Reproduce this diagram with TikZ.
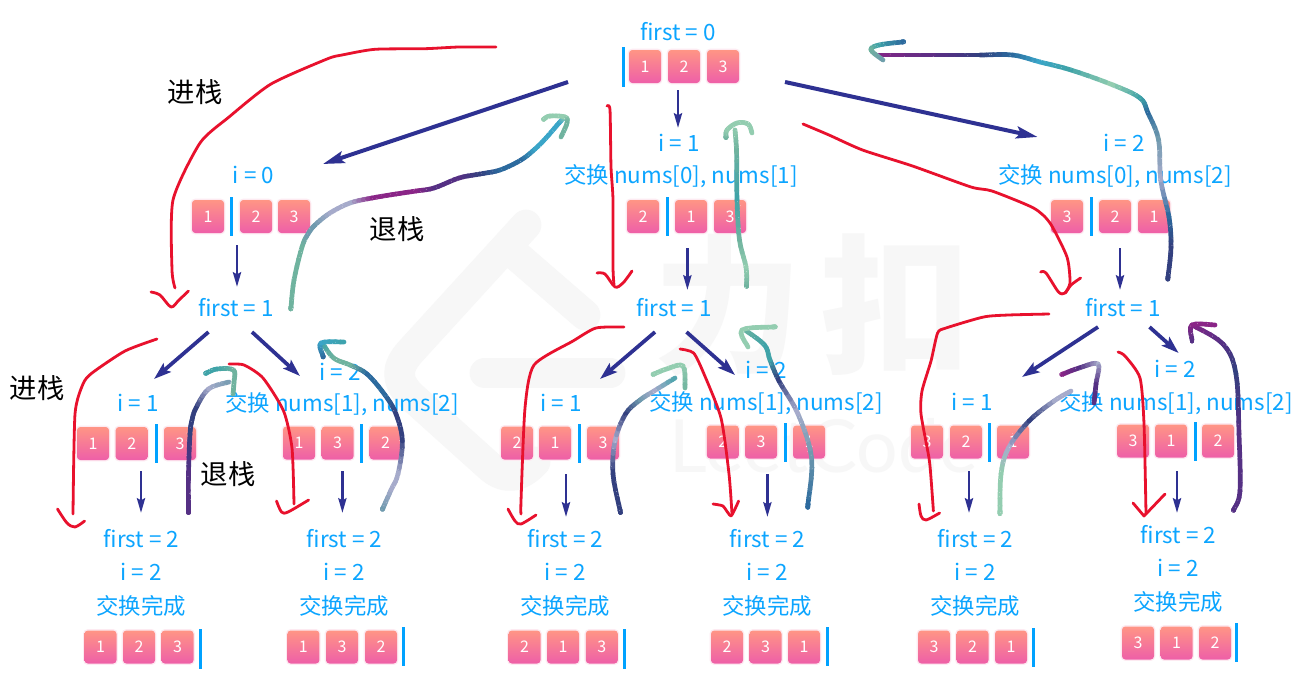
\documentclass[tikz,border=0pt]{standalone}
\usepackage{fontspec}
\setmainfont{Noto Sans CJK SC}
\newfontfamily\wmlatin{Lato}
\usetikzlibrary{arrows.meta}
\definecolor{labelblue}{HTML}{0CA5FF}
\definecolor{barblue}{HTML}{00A2FF}
\definecolor{arrowblue}{HTML}{2E3192}
\definecolor{penred}{HTML}{E8112D}
\definecolor{tiletop}{HTML}{FF9585}
\definecolor{tilebot}{HTML}{EE5FA8}
\definecolor{tileglow}{HTML}{FDEAF1}
\definecolor{mark}{HTML}{F7F7F7}
\definecolor{gmint}{HTML}{93CDB0}
\definecolor{ggreen}{HTML}{6FB39F}
\definecolor{gteal}{HTML}{3FA3A8}
\definecolor{gsky}{HTML}{3AA5C8}
\definecolor{gblue}{HTML}{2C6A9E}
\definecolor{gnavy}{HTML}{33407F}
\definecolor{gpurple}{HTML}{553084}
\definecolor{gmagenta}{HTML}{8A2587}
\definecolor{glilac}{HTML}{A6ABCB}
\definecolor{gsteel}{HTML}{6F9AAE}
\tikzset{
  label text/.style={text=labelblue,font=\fontsize{16.8pt}{18pt}\selectfont,inner sep=0pt,text height=12pt,text depth=0pt,anchor=center},
  note text/.style={text=black,font=\fontsize{20.5pt}{22pt}\selectfont,inner sep=0pt},
  tilebox/.style={minimum width=24pt,minimum height=24.75pt,inner sep=0pt,rounded corners=2.5pt,top color=tiletop,bottom color=tilebot,text=white,font=\fontsize{12pt}{12pt}\selectfont,preaction={draw=tileglow,line width=2pt}},
  divider/.style={draw=barblue,line width=2.25pt},
  longarrow/.style={draw=arrowblue,fill=arrowblue,line width=3pt,-{Stealth[length=16pt,width=9pt,inset=3pt]}},
  midarrow/.style={draw=arrowblue,fill=arrowblue,line width=2.8pt,-{Stealth[length=13pt,width=8.5pt,inset=2.5pt]}},
  downarrow/.style={draw=arrowblue,fill=arrowblue,line width=2.1pt,-{Stealth[length=11pt,width=6pt,inset=1.5pt]}},
  redpen/.style={draw=penred,line width=2.1pt,line cap=round,line join=round},
  galpen/.style={line width=3.5pt,line cap=round,line join=round},
}
\pgfmathsetseed{4242}
% one Catmull-Rom span from (b) to (c), with (a) and (next) as neighbours
\newcommand{\galpoint}[5]{% result in \crv ; #1..#4 control values, #5 t
  \pgfmathsetmacro\crv{.5*(2*#2+(#3-#1)*#5+(2*#1-5*#2+4*#3-#4)*#5*#5+(3*#2-#1-3*#3+#4)*#5*#5*#5)}}
\newcommand{\galspan}[2]{%
  \foreach \t in {0,20,40,60,80}{%
    \pgfmathsetmacro\ta{\t/100}\pgfmathsetmacro\tb{(\t+20)/100}%
    \galpoint{\gxa}{\gxb}{\gxc}{#1}{\ta}\let\xs\crv
    \galpoint{\gya}{\gyb}{\gyc}{#2}{\ta}\let\ys\crv
    \galpoint{\gxa}{\gxb}{\gxc}{#1}{\tb}\let\xe\crv
    \galpoint{\gya}{\gyb}{\gyc}{#2}{\tb}\let\ye\crv
    \draw[galpen,color=\gcc!\t!\gcb] (\xs,\ys) -- (\xe,\ye);
    \pgfmathsetmacro\sx{\xs+3.4*rand}\pgfmathsetmacro\sy{\ys+3.4*rand}%
    \fill[white,opacity=.55] (\sx,\sy) circle (.32pt);
  }%
}
\newcommand{\galstroke}[1]{%
  \gdef\gfirst{1}%
  \foreach \x/\y/\c in {#1}{%
    \ifnum\gfirst=1
      \xdef\gxa{\x}\xdef\gxb{\x}\xdef\gxc{\x}\xdef\gya{\y}\xdef\gyb{\y}\xdef\gyc{\y}\xdef\gcb{\c}\xdef\gcc{\c}\gdef\gfirst{0}%
    \else
      \galspan{\x}{\y}%
      \xdef\gxa{\gxb}\xdef\gya{\gyb}\xdef\gxb{\gxc}\xdef\gyb{\gyc}\xdef\gcb{\gcc}%
      \xdef\gxc{\x}\xdef\gyc{\y}\xdef\gcc{\c}%
    \fi
  }%
  \galspan{\gxc}{\gyc}%
}
\begin{document}
\begin{tikzpicture}[x=.75pt,y=-.75pt]
\useasboundingbox (0,0) rectangle (1308,682);
\fill[white] (0,0) rectangle (1308,682);
% watermark
\begin{scope}[draw=mark,line width=23pt,line cap=round,line join=round]
  \draw (526,225) -- (410,352) .. controls (396,368) and (396,380) .. (410,395) -- (490,467) .. controls (505,480) and (520,478) .. (535,462);
  \draw (510,250) -- (585,315);
  \draw (485,373) -- (610,373);
\end{scope}
\node[text=mark,font=\bfseries\fontsize{112pt}{120pt}\selectfont,inner sep=0pt] (wmli) at (728,305) {力};
\node[text=mark,font=\bfseries\fontsize{112pt}{120pt}\selectfont,inner sep=0pt] (wmkou) at (895,305) {扣};
\node[text=mark,font=\wmlatin\fontsize{55pt}{60pt}\selectfont,inner sep=0pt] (wmen) at (824,446) {LeetCode};
% labels
\foreach \x/\y/\t [count=\i] in {
  678/32/{first = 0},
  253.5/175/{i = 0},236/308/{first = 1},
  679/143/{i = 1},681/175/{交换 nums[0], nums[1]},674/308/{first = 1},
  1124/143/{i = 2},1115/175/{交换 nums[0], nums[2]},1123/308/{first = 1},
  138/403/{i = 1},340/372/{i = 2},342/403/{交换 nums[1], nums[2]},
  561/403/{i = 1},766/370/{i = 2},766/402/{交换 nums[1], nums[2]},
  972/402/{i = 1},1175/369/{i = 2},1176/402/{交换 nums[1], nums[2]},
  141.5/539/{first = 2},141/572/{i = 2},141/606/{交换完成},
  344.5/539/{first = 2},344/572/{i = 2},344/606/{交换完成},
  565.5/539/{first = 2},565/572/{i = 2},565/606/{交换完成},
  767.5/539/{first = 2},767/572/{i = 2},767/606/{交换完成},
  975.5/539/{first = 2},975/572/{i = 2},975/606/{交换完成},
  1178.5/535/{first = 2},1178/568/{i = 2},1178/602/{交换完成}}
  {\node[label text] (label\i) at (\x,\y) {\t};}
% tiles
\foreach \x/\y/\d [count=\i] in {
  645/66.5/1,684/66.5/2,723/66.5/3,
  208/216.5/1,256/216.5/2,294/216.5/3,
  643/216.5/2,691/216.5/1,730/216.5/3,
  1067/216.5/3,1115/216.5/2,1154/216.5/1,
  93/443.5/1,131.7/443.5/2,180/443.5/3,
  299/443/1,337.6/443/3,385.6/443/2,
  517/443/2,555/443/1,603/443/3,
  722.8/442/2,761/442/3,809/442/1,
  927/442/3,966/442/2,1013/442/1,
  1133/441/3,1171/441/1,1218/441/2,
  100.5/647/1,139/647/2,177.5/647/3,
  303.4/647/1,342/647/3,381/647/2,
  524.5/647/2,563/647/1,601.8/647/3,
  727/647/2,765.5/647/3,804/647/1,
  934/647/3,972.5/647/2,1011/647/1,
  1138/643/3,1176.6/643/1,1215/643/2}
  {\node[tilebox] (tile\i) at (\x,\y) {\d};}
% dividers
\foreach \x/\ya/\yb in {
  623/47/87,231.5/197/236,667/197/236,1091/197/236,
  156/424/463,361/424/463,579/424/463,785.8/423/462,989.7/423/462,1195/422/461,
  200.6/629/669,403.7/627/666,624/629/669,827/627/666,1033.5/628/667,1236.6/623/662}
  {\draw[divider] (\x,\ya) -- (\x,\yb);}
% blue arrows: free ends are named coordinates
\foreach \n/\xa/\ya/\xb/\yb in {
  rootleft/568/82/323/164,
  rootright/785/82/1037.6/137}
  {\coordinate (\n-from) at (\xa,\ya); \coordinate (\n-to) at (\xb,\yb);
   \draw[longarrow] (\n-from) -- (\n-to);}
\foreach \n/\xa/\ya/\xb/\yb in {
  aleft/208.5/332/154/379,
  aright/252/332/300/376,
  bleft/655/332/600/379,
  bright/686.5/332/735/375,
  cleft/1098/327/1022/377,
  cright/1149.5/327/1178.6/353}
  {\coordinate (\n-from) at (\xa,\ya); \coordinate (\n-to) at (\xb,\yb);
   \draw[midarrow] (\n-from) -- (\n-to);}
\foreach \n/\xa/\ya/\xb/\yb in {
  d1/678/90/678/128,d2/237/245/237/287,d3/687.4/248/687.4/290,d4/1120/248/1120/290,
  d5/141/471/141/513,d6/342.4/471/342.4/513,d7/566/474/566/517,d8/767.4/474/767.4/517,d9/969/471/969/513,d10/1177/471/1177/513}
  {\coordinate (\n-from) at (\xa,\ya); \coordinate (\n-to) at (\xb,\yb);
   \draw[downarrow] (\n-from) -- (\n-to);}
% galaxy strokes
\galstroke{291/307/ggreen,294/280/ggreen,302/247/ggreen,308/234/gsteel,315/225/gsteel,330/213/glilac,350/203/glilac,372/198/gmagenta,396/194/gmagenta,416/191/gmagenta,434/188/gpurple,459/178/gpurple,480/174/gnavy,500/170/gblue,521/160/gblue,535/149/gsky,546/138/gsky,559/123/gsky,565/117/gmint}
\galstroke{544/119/gmint,550/116/gmint,565/117/gmint,567/123/ggreen,561/137/ggreen}
\galstroke{746.6/285/ggreen,746/267/gmint,739.5/240/ggreen,737/200/gteal,736.6/153/ggreen,735/130/gmint}
\galstroke{726/137/ggreen,727/130/gmint,737/123/gmint,748/124/gmint,752/133/gmint}
\galstroke{1168/277/gnavy,1171/247/gnavy,1169/217/gblue,1160.7/180/glilac,1158.6/140/gsteel,1148/113/gblue,1140/98/gteal,1113/85/gmint,1071/70/gteal,1040/62/gsky,1012.6/55/gblue,980/55/gnavy,946/55/gpurple,879/55/gmagenta}
\galstroke{902/42/gblue,879/45/gteal,871/50/ggreen,883/60/gsteel}
\galstroke{188.5/510/gpurple,188.5/474/gpurple,190/434/gnavy,192/420/gnavy,196/408/gnavy,208.5/389/glilac,229/382/gsteel}
\galstroke{206.4/373/gteal,217/369/gteal,233.5/370/ggreen,234/382/ggreen,233/394/ggreen}
\galstroke{383/508/gsteel,391/490/glilac,398/474/glilac,402.4/441/gnavy,396/414/gnavy,385/395/gblue,367/374/gblue,350/365/ggreen,333.6/358/ggreen,323/344/gteal}
\galstroke{323/356/gblue,321/343/gsky,344/342/gteal}
\galstroke{620/510/gnavy,613/474/gnavy,615/441/glilac,625.5/414/gnavy,640/400/gsteel,654/391/glilac,675/378/gteal}
\galstroke{654/374/gmint,666.5/369/gmint,683/366/gmint,685/388/ggreen}
\galstroke{808/504/gblue,811.6/458/gsteel,798/414/glilac,779/381/gnavy,770/360/gteal,764.5/345/gteal,745/330/ggreen}
\galstroke{773/327/gmint,742/330/gmint,748/347/gmint}
\galstroke{1000/511/gmint,1001/474/gmint,1008.5/448/glilac,1029/421/gnavy,1054/401/glilac,1071/391/glilac}
\galstroke{1063/374/gmagenta,1079/368/gpurple,1098/364/glilac,1096/384/gpurple,1094/403/gpurple}
\galstroke{1234/509/gpurple,1240/491/gpurple,1239/434/gpurple,1236/374/gnavy,1223/344/gpurple,1192/325/gmagenta}
\galstroke{1192/340/gpurple,1192/325/gmagenta,1215/325/gmagenta}
% red pen strokes
\draw[redpen] plot[smooth,tension=.4] coordinates {(496,47) (459,47) (425,48.7) (375,49.3) (342,55) (327,59) (271,84) (229,117) (200,143) (173,200) (172,270) (175,288)};
\draw[redpen] plot[smooth,tension=.5] coordinates {(151,292) (160,295) (171,307) (179,300) (188.5,291)};
\draw[redpen] plot[smooth,tension=.4] coordinates {(607,106) (610,110) (611,167) (613,200) (613,267) (614,285)};
\draw[redpen] plot[smooth,tension=.5] coordinates {(597,273) (605,274) (615,287) (623,283) (632,271)};
\draw[redpen] plot[smooth,tension=.4] coordinates {(803,124) (829,135) (862.5,150) (912.5,166) (971,187) (992,191) (1033.5,208) (1050,223) (1067,257) (1070,283) (1065,293)};
\draw[redpen] plot[smooth,tension=.5] coordinates {(1040.6,272) (1046,273) (1058.5,292) (1065,293) (1071,285) (1080.6,278)};
\draw[redpen] plot[smooth,tension=.4] coordinates {(1049,314) (1008.5,315) (983.5,317) (946,328) (937.6,333) (931,361) (922,391) (921,414) (929,458) (931,478) (933.4,511)};
\draw[redpen] plot[smooth,tension=.5] coordinates {(919,504) (921,516) (926,520) (939.6,513)};
\draw[redpen] plot[smooth,tension=.4] coordinates {(157,339) (125,351) (92,373) (83,384) (75,414) (73,514)};
\draw[redpen] plot[smooth,tension=.5] coordinates {(57.5,509) (67,523) (75,527) (84.6,521)};
\draw[redpen] plot[smooth,tension=.4] coordinates {(229,364) (244,365) (263,378) (283.6,411) (292,448) (294,504)};
\draw[redpen] plot[smooth,tension=.5] coordinates {(276.5,501) (281.5,512) (288,512) (308.6,500)};
\draw[redpen] plot[smooth,tension=.4] coordinates {(624,327) (596,328) (573,341) (534,365) (525,408) (521,501) (521,514)};
\draw[redpen] plot[smooth,tension=.5] coordinates {(508,509) (515,521) (521,524) (536,515)};
\draw[redpen] plot[smooth,tension=.4] coordinates {(680,349) (693.6,353) (704,374) (721,418) (729,474) (732,514)};
\draw[redpen] plot[smooth,tension=.3] coordinates {(713,504) (723,506) (731,516) (738.6,501)};
\draw[redpen] plot[smooth,tension=.4] coordinates {(1118,352) (1125,356) (1140,378) (1144,424) (1146,514)};
\draw[redpen] plot coordinates {(1133,503) (1144,516) (1165,494)};
% notes
\node[note text] (pushA) at (195,92) {进栈};
\node[note text] (popA) at (397,229) {退栈};
\node[note text] (pushB) at (37,388) {进栈};
\node[note text] (popB) at (228,474) {退栈};
\end{tikzpicture}
\end{document}
